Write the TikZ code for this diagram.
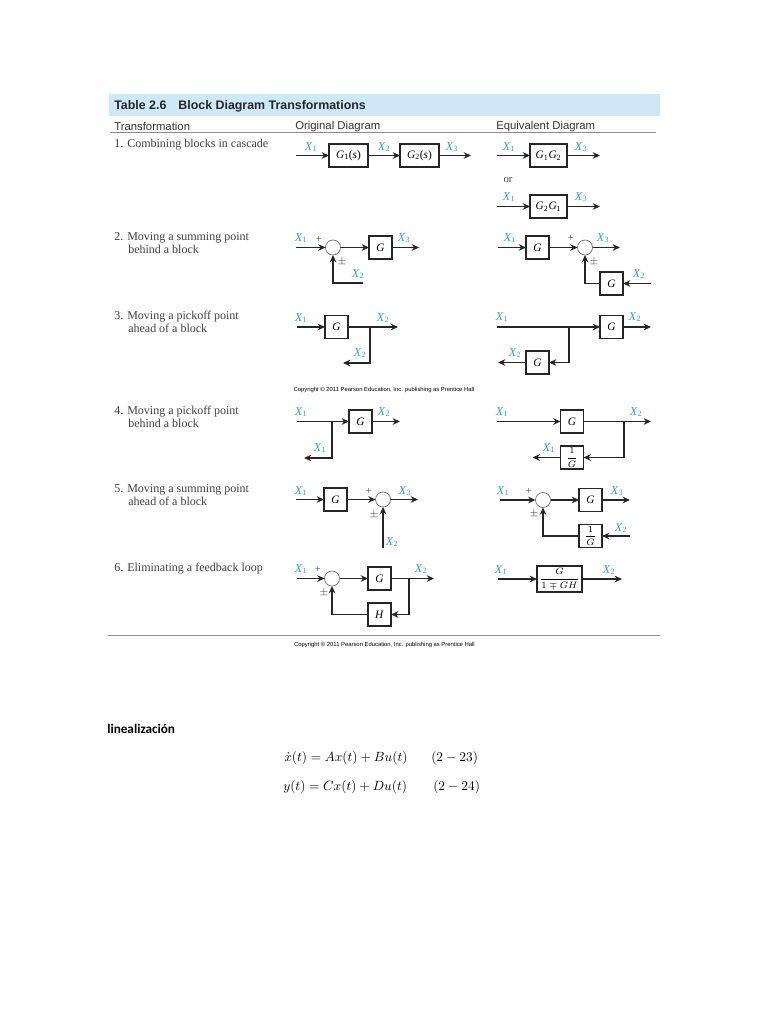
\documentclass[tikz,border=0pt]{standalone}
\usepackage{amsmath}
\usepackage{fontspec}
\setmainfont{Liberation Serif}
\setsansfont{Liberation Sans}
\newfontfamily\notefont{Carlito}
\usetikzlibrary{arrows.meta, positioning, calc}
\definecolor{headblue}{HTML}{CFE8F8}
\definecolor{sigblue}{HTML}{2F9FD0}
\definecolor{rowgray}{HTML}{404040}
\newcommand{\sigx}[1]{\textit{X}\textsubscript{#1}}

\begin{document}
\begin{tikzpicture}[
    x=0.75pt, y=-0.75pt,
    >={Stealth[length=5.5pt,width=5pt]},
    wire/.style={line width=1.2pt, black!85},
    block/.style={draw=black!85, line width=1pt, fill=white, inner sep=0pt, outer sep=0pt,
        minimum width=17.25pt, minimum height=17.25pt, font=\fontsize{8.5}{9}\selectfont},
    wideblock/.style={block, minimum width=29.25pt},
    sum/.style={circle, draw=black!60, line width=0.5pt, fill=white, inner sep=0pt, outer sep=0pt,
        minimum size=11.25pt},
    sig/.style={text=sigblue, inner sep=0pt, font=\fontsize{9}{9}\selectfont},
    pm/.style={text=rowgray, inner sep=0pt, font=\fontsize{8}{9}\selectfont},
    rowtext/.style={anchor=north west, align=left, inner sep=0pt, text=rowgray,
        font=\fontsize{9}{9.75}\selectfont},
    colhead/.style={anchor=west, inner sep=0pt, text=black!80,
        font=\sffamily\fontsize{8.5}{9}\selectfont},
    credit/.style={inner sep=0pt, font=\sffamily\fontsize{4.4}{5}\selectfont}
  ]
  \useasboundingbox (0,0) rectangle (768,1024);

  % header
  \fill[headblue] (109,94) rectangle (660,116);
  \node[anchor=west, inner sep=0pt, text=black!85,
        font=\sffamily\bfseries\fontsize{9.3}{11}\selectfont] (title) at (114,106.5)
    {Table 2.6\hspace{9pt}Block Diagram Transformations};
  \node[colhead] (headt) at (114,126.5) {Transformation};
  \node[colhead] (heado) at (295,126.5) {Original Diagram};
  \node[colhead] (heade) at (496,126.5) {Equivalent Diagram};
  \draw[black!45, line width=0.6pt] (110,132.5) -- (656,132.5);

  % row labels
  \node[rowtext] (row1) at (114,138.5) {1.\hspace{3pt}Combining blocks in cascade};
  \node[rowtext] (row2) at (114,232.5) {2.\hspace{3pt}Moving a summing point\\\hspace*{10.5pt}behind a block};
  \node[rowtext] (row3) at (114,310.5) {3.\hspace{3pt}Moving a pickoff point\\\hspace*{10.5pt}ahead of a block};
  \node[rowtext] (row4) at (114,405.5) {4.\hspace{3pt}Moving a pickoff point\\\hspace*{10.5pt}behind a block};
  \node[rowtext] (row5) at (114,484.5) {5.\hspace{3pt}Moving a summing point\\\hspace*{10.5pt}ahead of a block};
  \node[rowtext] (row6) at (114,562.5) {6.\hspace{3pt}Eliminating a feedback loop};

  % 1. cascade
  \node[wideblock] (ga1) at (348.5,155.5) {\textit{G}\textsubscript{1}(\textit{s})};
  \node[wideblock, right=24pt of ga1] (ga2) {\textit{G}\textsubscript{2}(\textit{s})};
  \coordinate[left=24.75pt of ga1] (ina);
  \coordinate[right=24pt of ga2] (outa);
  \draw[wire,->] (ina) -- (ga1);
  \draw[wire,->] (ga1) -- (ga2);
  \draw[wire,->] (ga2) -- (outa);
  \node[sig] (xa1) at (311,147) {\sigx{1}};
  \node[sig] (xa2) at (384,147) {\sigx{2}};
  \node[sig] (xa3) at (452,147) {\sigx{3}};

  \node[wideblock, minimum width=27.75pt] (gb1) at (548.5,155.5) {\textit{G}\textsubscript{1}\textit{G}\textsubscript{2}};
  \node[wideblock, minimum width=27.75pt, below=21pt of gb1] (gb2) {\textit{G}\textsubscript{2}\textit{G}\textsubscript{1}};
  \coordinate[left=24.75pt of gb1] (inb1);
  \coordinate[right=24.75pt of gb1] (outb1);
  \coordinate[left=24.75pt of gb2] (inb2);
  \coordinate[right=24.75pt of gb2] (outb2);
  \draw[wire,->] (inb1) -- (gb1);
  \draw[wire,->] (gb1) -- (outb1);
  \draw[wire,->] (inb2) -- (gb2);
  \draw[wire,->] (gb2) -- (outb2);
  \node[sig] (xb1) at (509,147) {\sigx{1}};
  \node[sig] (xb2) at (581,147) {\sigx{3}};
  \node[sig] (xb3) at (509,197) {\sigx{1}};
  \node[sig] (xb4) at (581,197) {\sigx{3}};
  \node[pm] (orb) at (508,180) {or};

  % 2. summing point behind
  \node[sum] (sc) at (333,247.5) {};
  \node[block, right=21.4pt of sc] (gc) {\textit{G}};
  \coordinate[left=22pt of sc] (inc);
  \coordinate[right=20.25pt of gc] (outc);
  \coordinate (fbc) at (363,283);
  \draw[wire,->] (inc) -- (sc);
  \draw[wire,->] (sc) -- (gc);
  \draw[wire,->] (gc) -- (outc);
  \draw[wire,->] (fbc) -| (sc);
  \node[sig] (xc1) at (301,238) {\sigx{1}};
  \node[pm] (pc1) at (319,239) {+};
  \node[pm] (pc2) at (342,262) {$\pm$};
  \node[sig] (xc2) at (358,274) {\sigx{2}};
  \node[sig] (xc3) at (404,238) {\sigx{3}};

  \node[block] (gd) at (537.5,247.5) {\textit{G}};
  \node[sum, right=21.4pt of gd] (sd) {};
  \node[block] (gd2) at (611.5,283.5) {\textit{G}};
  \coordinate[left=21pt of gd] (ind);
  \coordinate[right=20.6pt of sd] (outd);
  \coordinate[right=21pt of gd2] (ind2);
  \draw[wire,->] (ind) -- (gd);
  \draw[wire,->] (gd) -- (sd);
  \draw[wire,->] (sd) -- (outd);
  \draw[wire,->] (ind2) -- (gd2);
  \draw[wire,->] (gd2) -| (sd);
  \node[sig] (xd1) at (510,238) {\sigx{1}};
  \node[pm] (pd1) at (571,238) {+};
  \node[sig] (xd3) at (603,238) {\sigx{3}};
  \node[pm] (pd2) at (594,262) {$\pm$};
  \node[sig] (xd2) at (639,274) {\sigx{2}};

  % 3. pickoff ahead
  \node[block] (ge) at (336.5,327) {\textit{G}};
  \coordinate[left=21pt of ge] (ine);
  \coordinate[right=37.5pt of ge] (oute);
  \coordinate[right=16.5pt of ge] (te);
  \coordinate (oute2) at (343,363);
  \draw[wire,->] (ine) -- (ge);
  \draw[wire,->] (ge) -- (oute);
  \draw[wire,->] (te) |- (oute2);
  \node[sig] (xe1) at (301,318) {\sigx{1}};
  \node[sig] (xe2) at (383,318) {\sigx{2}};
  \node[sig] (xe3) at (360,353) {\sigx{2}};

  \node[block] (gf) at (611.5,327) {\textit{G}};
  \node[block] (gf2) at (537.5,362.5) {\textit{G}};
  \coordinate (inf) at (497,327);
  \coordinate[right=21pt of gf] (outf);
  \coordinate[left=23.25pt of gf] (tf);
  \coordinate[left=21pt of gf2] (outf2);
  \draw[wire,->] (inf) -- (gf);
  \draw[wire,->] (gf) -- (outf);
  \draw[wire,->] (tf) |- (gf2);
  \draw[wire,->] (gf2) -- (outf2);
  \node[sig] (xf1) at (502,317) {\sigx{1}};
  \node[sig] (xf2) at (635,317) {\sigx{2}};
  \node[sig] (xf3) at (515,353) {\sigx{2}};

  \node[credit] (copya) at (384,389.5) {Copyright © 2011 Pearson Education, Inc. publishing as Prentice Hall};

  % 4. pickoff behind
  \node[block] (gg) at (360.5,421.5) {\textit{G}};
  \coordinate (ing) at (297,421.5);
  \coordinate[right=21pt of gg] (outg);
  \coordinate[left=12.75pt of gg] (tg);
  \coordinate (outg2) at (304,458);
  \draw[wire,->] (ing) -- (gg);
  \draw[wire,->] (gg) -- (outg);
  \draw[wire,->] (tg) |- (outg2);
  \node[sig] (xg1) at (301,412) {\sigx{1}};
  \node[sig] (xg2) at (384,412) {\sigx{2}};
  \node[sig] (xg3) at (320,448) {\sigx{1}};

  \node[block] (gh) at (572,421.5) {\textit{G}};
  \node[block, below=9.75pt of gh] (gh2) {\scriptsize$\dfrac{1}{G}$};
  \coordinate (inh) at (497,421.5);
  \coordinate (outh) at (651,421.5);
  \coordinate (th) at (624,421.5);
  \coordinate[left=21pt of gh2] (outh2);
  \draw[wire,->] (inh) -- (gh);
  \draw[wire,->] (gh) -- (outh);
  \draw[wire,->] (th) |- (gh2);
  \draw[wire,->] (gh2) -- (outh2);
  \node[sig] (xh1) at (502,412) {\sigx{1}};
  \node[sig] (xh2) at (636,412) {\sigx{2}};
  \node[sig] (xh3) at (549,448) {\sigx{1}};

  % 5. summing point ahead
  \node[block] (gi) at (335.5,499.5) {\textit{G}};
  \node[sum, right=21.4pt of gi] (si) {};
  \coordinate[left=21pt of gi] (ini);
  \coordinate[right=20.6pt of si] (outi);
  \coordinate[below=31pt of si] (fbi);
  \draw[wire,->] (ini) -- (gi);
  \draw[wire,->] (gi) -- (si);
  \draw[wire,->] (si) -- (outi);
  \draw[wire,->] (fbi) -- (si);
  \node[sig] (xi1) at (301,491) {\sigx{1}};
  \node[pm] (pi1) at (369,491) {+};
  \node[sig] (xi3) at (405,491) {\sigx{3}};
  \node[pm] (pi2) at (374,515) {$\pm$};
  \node[sig] (xi2) at (392,542) {\sigx{2}};

  \node[sum] (sj) at (543,500) {};
  \node[block, right=21.4pt of sj] (gj) {\textit{G}};
  \node[block, below=9.75pt of gj] (gj2) {\scriptsize$\dfrac{1}{G}$};
  \coordinate[left=27pt of sj] (inj);
  \coordinate[right=21pt of gj] (outj);
  \coordinate[right=21pt of gj2] (inj2);
  \draw[wire,->] (inj) -- (sj);
  \draw[wire,->] (sj) -- (gj);
  \draw[wire,->] (gj) -- (outj);
  \draw[wire,->] (inj2) -- (gj2);
  \draw[wire,->] (gj2) -| (sj);
  \node[sig] (xj1) at (503,491) {\sigx{1}};
  \node[pm] (pj1) at (529,491) {+};
  \node[sig] (xj3) at (617,491) {\sigx{3}};
  \node[pm] (pj2) at (534,514) {$\pm$};
  \node[sig] (xj2) at (621,528) {\sigx{2}};

  % 6. feedback loop
  \node[sum] (sk) at (332,578.5) {};
  \node[block, right=21.4pt of sk] (gk) {\textit{G}};
  \node[block, below=9.75pt of gk] (hk) {\textit{H}};
  \coordinate[left=21pt of sk] (ink);
  \coordinate[right=32.25pt of gk] (outk);
  \coordinate[right=13.5pt of gk] (tk);
  \draw[wire,->] (ink) -- (sk);
  \draw[wire,->] (sk) -- (gk);
  \draw[wire,->] (gk) -- (outk);
  \draw[wire,->] (tk) |- (hk);
  \draw[wire,->] (hk) -| (sk);
  \node[sig] (xk1) at (301,569) {\sigx{1}};
  \node[pm] (pk1) at (318,569) {+};
  \node[sig] (xk2) at (421,569) {\sigx{2}};
  \node[pm] (pk2) at (324,593) {$\pm$};

  \node[block, minimum width=33.75pt, minimum height=19.5pt] (gl) at (559.5,579)
    {\scriptsize$\dfrac{G}{1\mp GH}$};
  \coordinate[left=29.25pt of gl] (inl);
  \coordinate[right=30pt of gl] (outl);
  \draw[wire,->] (inl) -- (gl);
  \draw[wire,->] (gl) -- (outl);
  \node[sig] (xl1) at (501,570) {\sigx{1}};
  \node[sig] (xl2) at (609,570) {\sigx{2}};

  \draw[black!45, line width=0.6pt] (108,635) -- (660,635);
  \node[credit] (copyb) at (384.5,644.5) {Copyright © 2011 Pearson Education, Inc. publishing as Prentice Hall};

  % text below the table
  \node[anchor=west, inner sep=0pt, font=\notefont\bfseries\fontsize{9.9}{11}\selectfont] (lin) at (107,729)
    {linealización};
  \node[anchor=west, inner sep=0pt] (eqa) at (284,758) {$\dot{x}(t)=Ax(t)+Bu(t)$};
  \node[anchor=west, inner sep=0pt] (numa) at (431,758) {$(2-23)$};
  \node[anchor=west, inner sep=0pt] (eqb) at (283,787) {$y(t)=Cx(t)+Du(t)$};
  \node[anchor=west, inner sep=0pt] (numb) at (433,787) {$(2-24)$};
\end{tikzpicture}
\end{document}
